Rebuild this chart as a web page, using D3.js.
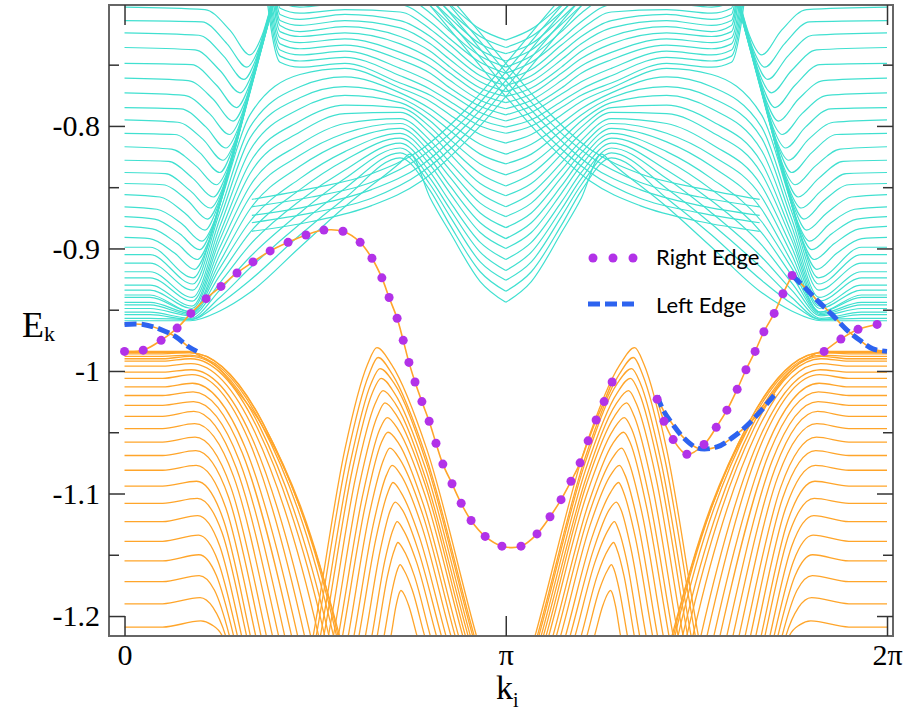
<!DOCTYPE html>
<html>
<head>
<meta charset="utf-8">
<script src="https://cdn.jsdelivr.net/npm/d3@7"></script>
<style>
  body { margin: 0; background: #fff; }
  svg text { font-family: "Liberation Serif", "Times New Roman", serif; fill: #000; }
</style>
</head>
<body>
<div id="chart"></div>
<script>
// k is stored in units of pi, energies are E_k

// --- Axis ticks ---
const xTickVals = [0, 1, 2];
const xTickLabels = ["0", "π", "2π"];
const yMajor = [-1.2, -1.1, -1, -0.9, -0.8];
const yMajorLabels = ["-1.2", "-1.1", "-1", "-0.9", "-0.8"];
const yMinor = [-1.15, -1.05, -0.95, -0.85, -0.75];

// --- Upper bulk band, left half (spectrum is symmetric about k = pi) ---
// lines entering from k = 0, dipping, then rising steeply out of the top
const cyanLeftLines = [
  [[0,-0.703],[0.211,-0.705],[0.277,-0.722],[0.329,-0.742],[0.361,-0.726],[0.392,-0.693],[0.455,-0.62]],
  [[0,-0.714],[0.203,-0.715],[0.269,-0.733],[0.321,-0.752],[0.353,-0.736],[0.384,-0.703],[0.447,-0.63]],
  [[0,-0.724],[0.195,-0.726],[0.26,-0.743],[0.313,-0.762],[0.344,-0.746],[0.376,-0.713],[0.439,-0.639]],
  [[0,-0.736],[0.185,-0.738],[0.251,-0.755],[0.303,-0.773],[0.335,-0.757],[0.366,-0.724],[0.429,-0.651]],
  [[0,-0.749],[0.176,-0.75],[0.242,-0.767],[0.294,-0.785],[0.326,-0.768],[0.357,-0.736],[0.42,-0.662]],
  [[0,-0.761],[0.167,-0.763],[0.232,-0.778],[0.285,-0.796],[0.316,-0.78],[0.348,-0.747],[0.41,-0.674]],
  [[0,-0.773],[0.157,-0.775],[0.223,-0.79],[0.275,-0.807],[0.307,-0.791],[0.338,-0.758],[0.401,-0.685]],
  [[0,-0.785],[0.148,-0.786],[0.214,-0.801],[0.266,-0.818],[0.298,-0.802],[0.329,-0.769],[0.392,-0.696],[0.455,-0.622]],
  [[0,-0.795],[0.14,-0.797],[0.206,-0.811],[0.258,-0.828],[0.29,-0.812],[0.321,-0.779],[0.384,-0.705],[0.447,-0.632]],
  [[0,-0.806],[0.132,-0.807],[0.198,-0.822],[0.25,-0.838],[0.281,-0.821],[0.313,-0.789],[0.376,-0.715],[0.439,-0.642]],
  [[0,-0.817],[0.123,-0.819],[0.189,-0.833],[0.241,-0.848],[0.273,-0.832],[0.304,-0.799],[0.367,-0.726],[0.43,-0.653]],
  [[0,-0.828],[0.115,-0.829],[0.18,-0.843],[0.233,-0.858],[0.264,-0.842],[0.296,-0.809],[0.359,-0.736],[0.422,-0.662]],
  [[0,-0.838],[0.107,-0.839],[0.173,-0.853],[0.225,-0.867],[0.257,-0.851],[0.288,-0.818],[0.351,-0.745],[0.414,-0.672]],
  [[0,-0.847],[0.1,-0.848],[0.166,-0.861],[0.218,-0.876],[0.25,-0.859],[0.281,-0.827],[0.344,-0.753],[0.407,-0.68]],
  [[0,-0.856],[0.093,-0.858],[0.158,-0.871],[0.211,-0.885],[0.242,-0.868],[0.274,-0.836],[0.337,-0.762],[0.4,-0.689]],
  [[0,-0.866],[0.085,-0.868],[0.151,-0.88],[0.203,-0.894],[0.235,-0.878],[0.266,-0.845],[0.329,-0.771],[0.392,-0.698],[0.455,-0.625]],
  [[0,-0.874],[0.079,-0.876],[0.145,-0.888],[0.197,-0.901],[0.228,-0.885],[0.26,-0.853],[0.323,-0.779],[0.386,-0.706],[0.449,-0.632]],
  [[0,-0.882],[0.073,-0.884],[0.138,-0.896],[0.191,-0.909],[0.222,-0.893],[0.254,-0.86],[0.317,-0.787],[0.38,-0.713],[0.442,-0.64]],
  [[0,-0.891],[0.066,-0.892],[0.132,-0.904],[0.184,-0.917],[0.216,-0.9],[0.247,-0.868],[0.31,-0.794],[0.373,-0.721],[0.436,-0.647]]
];

// lines that leave the rising bundle and fan out towards the valley at k = pi
const cyanFanLines = [
  [[0,-0.959],[0.067,-0.959],[0.172,-0.959],[0.25,-0.951],[0.329,-0.936],[0.46,-0.899],[0.578,-0.866],[0.723,-0.83],[0.749,-0.823],[0.802,-0.859],[0.854,-0.887],[0.933,-0.927],[1,-0.944]],
  [[0,-0.957],[0.067,-0.957],[0.172,-0.958],[0.25,-0.945],[0.329,-0.926],[0.46,-0.889],[0.578,-0.859],[0.723,-0.826],[0.802,-0.853],[0.854,-0.881],[0.933,-0.919],[1,-0.935]],
  [[0,-0.954],[0.067,-0.954],[0.173,-0.958],[0.25,-0.94],[0.329,-0.916],[0.46,-0.88],[0.578,-0.851],[0.723,-0.822],[0.802,-0.848],[0.854,-0.874],[0.933,-0.911],[1,-0.926]],
  [[0,-0.952],[0.067,-0.952],[0.173,-0.957],[0.25,-0.934],[0.329,-0.907],[0.46,-0.871],[0.578,-0.843],[0.723,-0.818],[0.802,-0.843],[0.854,-0.868],[0.933,-0.903],[1,-0.918]],
  [[0,-0.949],[0.067,-0.949],[0.174,-0.955],[0.25,-0.928],[0.329,-0.897],[0.46,-0.861],[0.578,-0.836],[0.723,-0.814],[0.802,-0.838],[0.854,-0.862],[0.933,-0.895],[1,-0.909]],
  [[0,-0.946],[0.067,-0.946],[0.174,-0.954],[0.25,-0.922],[0.329,-0.887],[0.46,-0.852],[0.578,-0.828],[0.723,-0.81],[0.802,-0.832],[0.854,-0.855],[0.933,-0.887],[1,-0.9]],
  [[0,-0.944],[0.067,-0.944],[0.175,-0.953],[0.25,-0.916],[0.329,-0.878],[0.46,-0.843],[0.578,-0.821],[0.723,-0.806],[0.802,-0.827],[0.854,-0.849],[0.933,-0.879],[1,-0.892]],
  [[0,-0.94],[0.067,-0.94],[0.175,-0.952],[0.25,-0.911],[0.329,-0.868],[0.46,-0.833],[0.578,-0.813],[0.723,-0.802],[0.802,-0.822],[0.854,-0.842],[0.933,-0.871],[1,-0.883]],
  [[0,-0.938],[0.067,-0.938],[0.176,-0.952],[0.25,-0.905],[0.329,-0.858],[0.46,-0.824],[0.578,-0.806],[0.723,-0.798],[0.802,-0.817],[0.854,-0.836],[0.933,-0.863],[1,-0.874]],
  [[0,-0.934],[0.067,-0.934],[0.177,-0.949],[0.25,-0.899],[0.329,-0.849],[0.46,-0.815],[0.578,-0.798],[0.723,-0.794],[0.802,-0.812],[0.854,-0.83],[0.933,-0.855],[1,-0.866]],
  [[0,-0.93],[0.067,-0.93],[0.177,-0.947],[0.25,-0.893],[0.329,-0.839],[0.46,-0.805],[0.578,-0.79],[0.723,-0.789],[0.802,-0.806],[0.854,-0.823],[0.933,-0.847],[1,-0.857]],
  [[0,-0.924],[0.067,-0.924],[0.178,-0.943],[0.25,-0.888],[0.329,-0.83],[0.46,-0.796],[0.578,-0.783],[0.723,-0.785],[0.802,-0.801],[0.854,-0.817],[0.933,-0.839],[1,-0.849]],
  [[0,-0.919],[0.067,-0.919],[0.178,-0.94],[0.25,-0.882],[0.329,-0.82],[0.46,-0.786],[0.578,-0.775],[0.723,-0.781],[0.802,-0.796],[0.854,-0.811],[0.933,-0.831],[1,-0.84]],
  [[0,-0.912],[0.067,-0.912],[0.179,-0.934],[0.25,-0.876],[0.329,-0.81],[0.46,-0.777],[0.578,-0.768],[0.723,-0.777],[0.802,-0.791],[0.854,-0.804],[0.933,-0.823],[1,-0.831]],
  [[0,-0.905],[0.067,-0.905],[0.179,-0.929],[0.25,-0.87],[0.329,-0.801],[0.46,-0.768],[0.578,-0.76],[0.723,-0.773],[0.802,-0.786],[0.854,-0.798],[0.933,-0.815],[1,-0.823]],
  [[0,-0.899],[0.067,-0.899],[0.18,-0.924],[0.25,-0.864],[0.329,-0.791],[0.46,-0.758],[0.578,-0.753],[0.723,-0.769],[0.802,-0.78],[0.854,-0.791],[0.933,-0.807],[1,-0.814]]
];

// lines coming down from the top edge into the upper part of the valley
const cyanUpperLines = [
  [[0.361,-0.665],[0.408,-0.748],[0.46,-0.752],[0.578,-0.749],[0.723,-0.765],[0.802,-0.775],[0.854,-0.785],[0.933,-0.8],[1,-0.806]],
  [[0.364,-0.665],[0.408,-0.743],[0.46,-0.747],[0.578,-0.744],[0.723,-0.759],[0.802,-0.77],[0.854,-0.78],[0.933,-0.795],[1,-0.801]],
  [[0.367,-0.665],[0.408,-0.738],[0.46,-0.742],[0.578,-0.739],[0.723,-0.753],[0.802,-0.764],[0.854,-0.774],[0.933,-0.789],[1,-0.796]],
  [[0.37,-0.665],[0.408,-0.733],[0.46,-0.737],[0.578,-0.734],[0.723,-0.746],[0.802,-0.757],[0.854,-0.769],[0.933,-0.784],[1,-0.791]],
  [[0.373,-0.665],[0.408,-0.728],[0.46,-0.732],[0.578,-0.729],[0.723,-0.74],[0.802,-0.751],[0.854,-0.763],[0.933,-0.779],[1,-0.786]],
  [[0.377,-0.665],[0.408,-0.723],[0.46,-0.727],[0.578,-0.724],[0.723,-0.733],[0.802,-0.745],[0.854,-0.757],[0.933,-0.774],[1,-0.781]],
  [[0.38,-0.665],[0.408,-0.718],[0.46,-0.723],[0.578,-0.719],[0.723,-0.727],[0.802,-0.739],[0.854,-0.752],[0.933,-0.769],[1,-0.776]],
  [[0.383,-0.665],[0.408,-0.714],[0.46,-0.718],[0.578,-0.714],[0.723,-0.72],[0.802,-0.733],[0.854,-0.746],[0.933,-0.764],[1,-0.772]],
  [[0.386,-0.665],[0.408,-0.709],[0.46,-0.713],[0.578,-0.709],[0.723,-0.714],[0.802,-0.727],[0.854,-0.74],[0.933,-0.759],[1,-0.767]],
  [[0.389,-0.665],[0.408,-0.704],[0.46,-0.708],[0.578,-0.705],[0.723,-0.707],[0.802,-0.721],[0.854,-0.734],[0.933,-0.754],[1,-0.762]],
  [[0.392,-0.665],[0.408,-0.699],[0.46,-0.703],[0.578,-0.7],[0.723,-0.701],[0.802,-0.715],[0.854,-0.729],[0.933,-0.748],[1,-0.757]],
  [[0.395,-0.665],[0.408,-0.694],[0.46,-0.698],[0.578,-0.695],[0.723,-0.694],[0.802,-0.708],[0.854,-0.723],[0.933,-0.743],[1,-0.752]],
  [[0.398,-0.665],[0.408,-0.689],[0.46,-0.693],[0.578,-0.69],[0.723,-0.687],[0.802,-0.702],[0.854,-0.717],[0.933,-0.738],[1,-0.747]],
  [[0.401,-0.665],[0.408,-0.684],[0.46,-0.688],[0.578,-0.685],[0.723,-0.683],[0.802,-0.697],[0.854,-0.712],[0.933,-0.733],[1,-0.741]],
  [[0.404,-0.665],[0.41,-0.679],[0.46,-0.683],[0.578,-0.68],[0.723,-0.678],[0.802,-0.692],[0.854,-0.707],[0.933,-0.727],[1,-0.736]],
  [[0.407,-0.665],[0.412,-0.674],[0.46,-0.678],[0.578,-0.675],[0.723,-0.673],[0.802,-0.687],[0.854,-0.701],[0.933,-0.721],[1,-0.73]]
];

// lines crossing k = pi diagonally (drawn with their mirror images, giving the X)
const cyanCrossLines = [
  [[0.802,-0.676],[0.906,-0.714],[1,-0.749],[1.103,-0.786],[1.221,-0.819],[1.352,-0.839],[1.509,-0.851],[1.666,-0.86]],
  [[0.802,-0.683],[0.906,-0.721],[1,-0.756],[1.103,-0.793],[1.221,-0.825],[1.352,-0.846],[1.509,-0.858],[1.666,-0.866]],
  [[0.802,-0.689],[0.906,-0.727],[1,-0.763],[1.103,-0.799],[1.221,-0.832],[1.352,-0.852],[1.509,-0.865],[1.666,-0.873]],
  [[0.802,-0.696],[0.906,-0.734],[1,-0.769],[1.103,-0.806],[1.221,-0.838],[1.352,-0.859],[1.509,-0.871],[1.666,-0.879]],
  [[0.802,-0.702],[0.906,-0.741],[1,-0.776],[1.103,-0.812],[1.221,-0.845],[1.352,-0.865],[1.509,-0.878],[1.666,-0.886]]
];

// --- Lower bulk band, left half ---
const orangeLeftLines = [
  [[0,-0.984],[0.17,-0.984],[0.2,-0.988],[0.25,-0.999],[0.3,-1.018],[0.35,-1.039],[0.4,-1.067],[0.45,-1.103],[0.5,-1.147],[0.55,-1.2],[0.6,-1.26]],
  [[0,-0.985],[0.1,-0.985],[0.17,-0.985],[0.362,-1.042],[0.56,-1.216],[0.61,-1.29]],
  [[0,-0.986],[0.1,-0.986],[0.171,-0.985],[0.364,-1.043],[0.556,-1.216],[0.606,-1.29]],
  [[0,-0.988],[0.1,-0.988],[0.172,-0.987],[0.36,-1.044],[0.548,-1.216],[0.598,-1.29]],
  [[0,-0.99],[0.1,-0.99],[0.172,-0.988],[0.354,-1.045],[0.536,-1.216],[0.586,-1.29]],
  [[0,-0.992],[0.1,-0.992],[0.173,-0.99],[0.349,-1.047],[0.525,-1.216],[0.575,-1.29]],
  [[0,-0.996],[0.1,-0.996],[0.174,-0.994],[0.342,-1.05],[0.509,-1.216],[0.559,-1.29]],
  [[0,-1.001],[0.1,-1.001],[0.175,-0.999],[0.332,-1.053],[0.488,-1.216],[0.538,-1.29]],
  [[0,-1.006],[0.1,-1.006],[0.177,-1.003],[0.325,-1.056],[0.472,-1.216],[0.522,-1.29]],
  [[0,-1.013],[0.1,-1.013],[0.178,-1.01],[0.316,-1.062],[0.454,-1.216],[0.504,-1.29]],
  [[0,-1.02],[0.1,-1.02],[0.18,-1.017],[0.309,-1.067],[0.438,-1.216],[0.488,-1.29]],
  [[0,-1.028],[0.1,-1.028],[0.181,-1.025],[0.301,-1.073],[0.42,-1.216],[0.47,-1.29]],
  [[0,-1.037],[0.1,-1.037],[0.182,-1.033],[0.293,-1.079],[0.404,-1.216],[0.454,-1.29]],
  [[0,-1.047],[0.1,-1.047],[0.184,-1.043],[0.286,-1.086],[0.388,-1.216],[0.438,-1.29]],
  [[0,-1.058],[0.1,-1.058],[0.185,-1.054],[0.279,-1.095],[0.372,-1.216],[0.422,-1.29]],
  [[0,-1.069],[0.1,-1.069],[0.187,-1.065],[0.273,-1.103],[0.358,-1.216],[0.408,-1.29]],
  [[0,-1.081],[0.1,-1.081],[0.188,-1.077],[0.266,-1.112],[0.344,-1.216],[0.394,-1.29]],
  [[0,-1.094],[0.1,-1.094],[0.189,-1.09],[0.26,-1.122],[0.33,-1.216],[0.38,-1.29]],
  [[0,-1.108],[0.1,-1.108],[0.191,-1.104],[0.256,-1.132],[0.32,-1.216],[0.37,-1.29]],
  [[0,-1.123],[0.1,-1.123],[0.192,-1.118],[0.25,-1.143],[0.307,-1.216],[0.357,-1.29]],
  [[0,-1.139],[0.1,-1.139],[0.194,-1.134],[0.245,-1.155],[0.296,-1.216],[0.346,-1.29]],
  [[0,-1.155],[0.1,-1.155],[0.195,-1.15],[0.241,-1.167],[0.286,-1.216],[0.336,-1.29]],
  [[0,-1.172],[0.1,-1.172],[0.196,-1.167],[0.236,-1.179],[0.275,-1.216],[0.325,-1.29]],
  [[0,-1.19],[0.1,-1.19],[0.198,-1.185],[0.232,-1.193],[0.265,-1.216],[0.315,-1.29]],
  [[0,-1.209],[0.1,-1.209],[0.2,-1.204],[0.228,-1.207],[0.256,-1.216],[0.306,-1.29]]
];

const orangeArchLines = [
  [[0.453,-1.286],[0.495,-1.216],[0.578,-1.064],[0.637,-0.995],[0.662,-0.981],[0.701,-0.995],[0.793,-1.064],[0.923,-1.216],[0.988,-1.286]],
  [[0.463,-1.284],[0.503,-1.216],[0.584,-1.07],[0.641,-1.003],[0.665,-0.989],[0.703,-1.003],[0.791,-1.07],[0.917,-1.216],[0.98,-1.284]],
  [[0.475,-1.282],[0.514,-1.216],[0.592,-1.075],[0.647,-1.01],[0.67,-0.998],[0.707,-1.01],[0.792,-1.075],[0.913,-1.216],[0.974,-1.282]],
  [[0.485,-1.279],[0.523,-1.216],[0.598,-1.08],[0.65,-1.018],[0.673,-1.006],[0.708,-1.018],[0.79,-1.08],[0.907,-1.216],[0.965,-1.279]],
  [[0.499,-1.276],[0.535,-1.216],[0.606,-1.087],[0.657,-1.027],[0.678,-1.016],[0.711,-1.027],[0.789,-1.087],[0.901,-1.216],[0.957,-1.276]],
  [[0.514,-1.273],[0.548,-1.216],[0.616,-1.093],[0.663,-1.037],[0.683,-1.026],[0.715,-1.037],[0.789,-1.093],[0.894,-1.216],[0.947,-1.273]],
  [[0.529,-1.27],[0.561,-1.216],[0.625,-1.101],[0.669,-1.048],[0.689,-1.038],[0.718,-1.048],[0.788,-1.101],[0.887,-1.216],[0.936,-1.27]],
  [[0.543,-1.266],[0.572,-1.216],[0.632,-1.109],[0.673,-1.059],[0.691,-1.05],[0.719,-1.059],[0.784,-1.109],[0.876,-1.216],[0.922,-1.266]],
  [[0.56,-1.262],[0.587,-1.216],[0.642,-1.117],[0.68,-1.072],[0.696,-1.063],[0.722,-1.072],[0.782,-1.117],[0.867,-1.216],[0.909,-1.262]],
  [[0.577,-1.258],[0.602,-1.216],[0.652,-1.126],[0.687,-1.085],[0.702,-1.077],[0.725,-1.085],[0.779,-1.126],[0.856,-1.216],[0.895,-1.258]],
  [[0.593,-1.253],[0.615,-1.216],[0.66,-1.136],[0.691,-1.099],[0.704,-1.091],[0.725,-1.099],[0.774,-1.136],[0.843,-1.216],[0.877,-1.253]],
  [[0.612,-1.249],[0.632,-1.216],[0.671,-1.146],[0.698,-1.113],[0.71,-1.107],[0.728,-1.113],[0.77,-1.146],[0.831,-1.216],[0.861,-1.249]],
  [[0.632,-1.244],[0.649,-1.216],[0.682,-1.156],[0.705,-1.129],[0.715,-1.123],[0.73,-1.129],[0.766,-1.156],[0.818,-1.216],[0.844,-1.244]],
  [[0.65,-1.239],[0.663,-1.216],[0.69,-1.167],[0.709,-1.145],[0.717,-1.14],[0.73,-1.145],[0.76,-1.167],[0.802,-1.216],[0.823,-1.239]],
  [[0.671,-1.233],[0.681,-1.216],[0.702,-1.179],[0.716,-1.162],[0.723,-1.158],[0.732,-1.162],[0.755,-1.179],[0.787,-1.216],[0.803,-1.233]],
  [[0.692,-1.227],[0.699,-1.216],[0.712,-1.192],[0.721,-1.181],[0.725,-1.179],[0.731,-1.181],[0.746,-1.192],[0.767,-1.216],[0.777,-1.227]]
];

// --- Edge states ---
const rightEdge = [
  [[0,-0.984],[0.049,-0.983],[0.096,-0.975],[0.138,-0.965],[0.174,-0.953],[0.214,-0.941],[0.253,-0.931],[0.295,-0.92],[0.337,-0.911],[0.382,-0.902],[0.429,-0.895],[0.476,-0.889],[0.523,-0.885],[0.573,-0.886],[0.618,-0.895],[0.649,-0.908],[0.675,-0.924],[0.694,-0.94],[0.715,-0.957],[0.731,-0.975],[0.746,-0.993],[0.762,-1.009],[0.78,-1.025],[0.799,-1.041],[0.817,-1.059],[0.835,-1.076],[0.859,-1.092],[0.883,-1.108],[0.909,-1.122],[0.946,-1.135],[0.99,-1.143],[1.04,-1.143],[1.082,-1.133],[1.116,-1.119],[1.145,-1.105],[1.171,-1.09],[1.195,-1.075],[1.216,-1.057],[1.237,-1.04],[1.258,-1.025],[1.279,-1.009]],
  [[1.397,-1.023],[1.415,-1.041],[1.439,-1.056],[1.475,-1.068],[1.52,-1.06],[1.552,-1.046],[1.58,-1.032],[1.607,-1.015],[1.63,-0.999],[1.654,-0.984],[1.677,-0.968],[1.704,-0.953],[1.727,-0.937],[1.751,-0.922]],
  [[1.835,-0.984],[1.879,-0.974],[1.924,-0.966],[1.974,-0.962]]
];

const leftEdge = [
  [[0,-0.962],[0.049,-0.962],[0.094,-0.966],[0.134,-0.972],[0.167,-0.98],[0.19,-0.984]],
  [[1.397,-1.02],[1.413,-1.032],[1.439,-1.044],[1.465,-1.054],[1.504,-1.063],[1.554,-1.062],[1.596,-1.054],[1.641,-1.042],[1.706,-1.019]],
  [[1.751,-0.922],[1.785,-0.932],[1.819,-0.943],[1.856,-0.954],[1.893,-0.966],[1.929,-0.975],[1.963,-0.982],[2,-0.984]]
];

// --- Colours ---
const cyan = "#40e0d0";
const orange = "#ffa52a";
const purple = "#b232e8";
const blue = "#2d63ef";

// --- Dimensions ---
const W = 916, H = 713;
const plot = { left: 109, right: 893, top: 5, bottom: 636 };

const svg = d3.select("#chart").append("svg")
  .attr("width", W)
  .attr("height", H);

const x = d3.scaleLinear().domain([-0.0407, 2.0157]).range([plot.left, plot.right]);
const y = d3.scaleLinear().domain([-1.2163, -0.7013]).range([plot.bottom, plot.top]);

svg.append("clipPath").attr("id", "clip")
  .append("rect")
  .attr("x", plot.left).attr("y", plot.top)
  .attr("width", plot.right - plot.left).attr("height", plot.bottom - plot.top);

const line = d3.line().x(d => x(d[0])).y(d => y(d[1])).curve(d3.curveMonotoneX);
const smooth = d3.line().x(d => x(d[0])).y(d => y(d[1])).curve(d3.curveCatmullRom);
const mirror = pts => pts.map(([k, e]) => [2 - k, e]).reverse();

const bulk = svg.append("g").attr("clip-path", "url(#clip)");

function drawBand(lines, color, width) {
  lines.forEach(l => {
    [l, mirror(l)].forEach(pts => {
      bulk.append("path")
        .attr("d", line(pts))
        .attr("fill", "none")
        .attr("stroke", color)
        .attr("stroke-width", width);
    });
  });
}

drawBand(cyanLeftLines, cyan, 1.2);
drawBand(cyanFanLines, cyan, 1.2);
drawBand(cyanUpperLines, cyan, 1.2);
drawBand(cyanCrossLines, cyan, 1.2);
drawBand(orangeLeftLines, orange, 1.3);
drawBand(orangeArchLines, orange, 1.3);

// edge states: thin orange line underneath, markers on top
const edges = svg.append("g").attr("clip-path", "url(#clip)");
[...rightEdge, ...leftEdge].forEach(seg => {
  edges.append("path").attr("d", smooth(seg))
    .attr("fill", "none").attr("stroke", orange).attr("stroke-width", 1.6);
});
leftEdge.forEach(seg => {
  edges.append("path").attr("d", smooth(seg))
    .attr("fill", "none").attr("stroke", blue)
    .attr("stroke-width", 5).attr("stroke-dasharray", "12,5");
});
rightEdge.forEach(seg => {
  edges.selectAll(null).data(seg).join("circle")
    .attr("cx", d => x(d[0])).attr("cy", d => y(d[1]))
    .attr("r", 4.5).attr("fill", purple);
});

// --- Frame ---
svg.append("rect")
  .attr("x", plot.left).attr("y", plot.top)
  .attr("width", plot.right - plot.left).attr("height", plot.bottom - plot.top)
  .attr("fill", "none").attr("stroke", "#666").attr("stroke-width", 2);

// --- Axes (ticks point inwards on all four sides) ---
function styleAxis(g) {
  g.select(".domain").remove();
  g.attr("font-family", null);
  g.selectAll(".tick line").attr("stroke", "#333").attr("stroke-width", 1.5);
  g.selectAll(".tick text")
    .style("font-family", "'Liberation Serif', 'Times New Roman', serif")
    .style("font-size", "30px").attr("fill", "#000");
}

svg.append("g").attr("transform", `translate(${plot.left},0)`)
  .call(d3.axisLeft(y).tickValues(yMajor).tickSize(-16).tickPadding(9).tickFormat((d, i) => yMajorLabels[i]))
  .call(styleAxis);
svg.append("g").attr("transform", `translate(${plot.left},0)`)
  .call(d3.axisLeft(y).tickValues(yMinor).tickSize(-10).tickFormat(""))
  .call(styleAxis);
svg.append("g").attr("transform", `translate(${plot.right},0)`)
  .call(d3.axisRight(y).tickValues(yMajor).tickSize(-16).tickFormat(""))
  .call(styleAxis);
svg.append("g").attr("transform", `translate(${plot.right},0)`)
  .call(d3.axisRight(y).tickValues(yMinor).tickSize(-10).tickFormat(""))
  .call(styleAxis);
svg.append("g").attr("transform", `translate(0,${plot.bottom})`)
  .call(d3.axisBottom(x).tickValues(xTickVals).tickSize(-20).tickPadding(8).tickFormat((d, i) => xTickLabels[i]))
  .call(styleAxis);
svg.append("g").attr("transform", `translate(0,${plot.top})`)
  .call(d3.axisTop(x).tickValues(xTickVals).tickSize(-20).tickFormat(""))
  .call(styleAxis);

// Axis titles
const yTitle = svg.append("text").attr("x", 22).attr("y", 337).style("font-size", "36px");
yTitle.append("tspan").text("E");
yTitle.append("tspan").attr("dy", 4).style("font-size", "22px").text("k");

const xTitle = svg.append("text").attr("x", 496).attr("y", 699).style("font-size", "34px");
xTitle.append("tspan").text("k");
xTitle.append("tspan").attr("dy", 8).style("font-size", "20px").text("i");

// --- Legend ---
const legend = svg.append("g");
legend.selectAll("circle").data([593, 613, 633]).join("circle")
  .attr("cx", d => d).attr("cy", 258).attr("r", 4.5).attr("fill", purple);
legend.append("line").attr("x1", 588).attr("x2", 636).attr("y1", 304).attr("y2", 304)
  .attr("stroke", blue).attr("stroke-width", 5).attr("stroke-dasharray", "12,5");
legend.append("text").attr("x", 656).attr("y", 265)
  .style("font-family", "Lato, 'Open Sans', sans-serif").style("font-size", "22px").attr("fill", "#111")
  .text("Right Edge");
legend.append("text").attr("x", 656).attr("y", 313)
  .style("font-family", "Lato, 'Open Sans', sans-serif").style("font-size", "22px").attr("fill", "#111")
  .text("Left Edge");
</script>
</body>
</html>
